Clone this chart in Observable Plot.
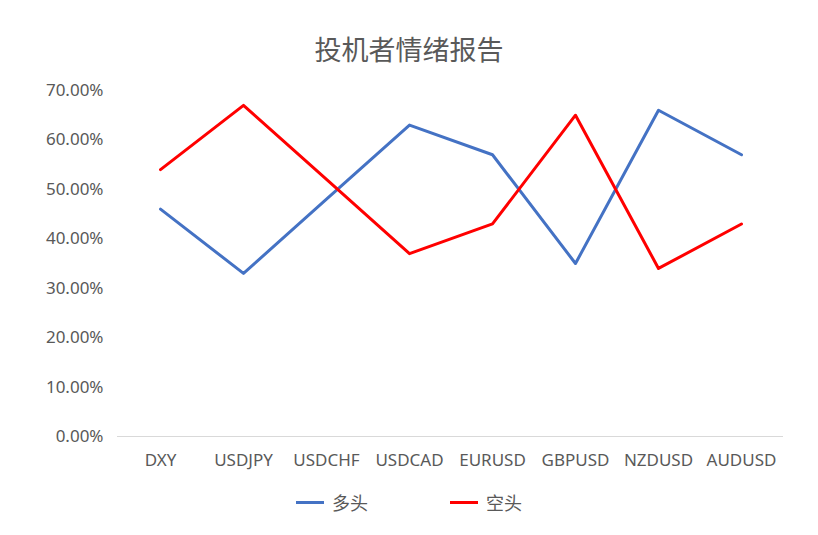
<!DOCTYPE html>
<html><head><meta charset="utf-8">
<script src="https://cdn.jsdelivr.net/npm/d3@7"></script>
<script src="https://cdn.jsdelivr.net/npm/@observablehq/plot@0.6"></script>
<style>
body{margin:0;background:#fff;font-family:"Noto Sans","Noto Sans CJK SC",sans-serif;}
#wrap{width:818px;height:535px;position:relative;}
#title{height:70px;line-height:98px;text-align:center;font-size:27px;color:#595959;font-family:"Noto Sans CJK SC",sans-serif;}
#legend{display:flex;justify-content:center;align-items:center;height:52px;font-size:18px;color:#595959;font-family:"Noto Sans CJK SC",sans-serif;}
.item{display:flex;align-items:center;margin:0 0px;}
.sw{width:28px;height:3px;margin-right:8px;}
</style></head>
<body><div id="wrap"><div id="title">投机者情绪报告</div><div id="chart"></div><div id="legend"></div></div>
<script>
const categories = ["DXY","USDJPY","USDCHF","USDCAD","EURUSD","GBPUSD","NZDUSD","AUDUSD"];
const seriesNames = ["多头","空头"];
const longValues = [46,33,48,63,57,35,66,57];
const shortValues = [54,67,52,37,43,65,34,43];
const colors = ["#4472C4","#FF0000"];
const yTicks = [0,10,20,30,40,50,60,70];

const data = [];
categories.forEach((c,i)=>{
  data.push({cat:c, series:seriesNames[0], v:longValues[i]});
  data.push({cat:c, series:seriesNames[1], v:shortValues[i]});
});

const plot = Plot.plot({
  width:818, height:406,
  marginLeft:117, marginRight:35, marginTop:20, marginBottom:40,
  style:{fontFamily:'"Noto Sans","Noto Sans CJK SC",sans-serif', fontSize:"17px", color:"#595959", background:"#fff"},
  x:{type:"point", domain:categories, padding:0.5, label:null},
  y:{domain:[0,70], label:null},
  color:{domain:seriesNames, range:colors},
  marks:[
    Plot.ruleY([0],{stroke:"#d9d9d9", strokeWidth:1}),
    Plot.axisY({ticks:yTicks, tickSize:0, tickPadding:14, tickFormat:d=>d.toFixed(2)+"%", label:null, fill:"#595959"}),
    Plot.axisX({tickSize:0, tickPadding:17, label:null, fill:"#595959"}),
    Plot.line(data,{x:"cat", y:"v", z:"series", stroke:"series", strokeWidth:3, strokeLinejoin:"round"})
  ]
});
document.getElementById("chart").appendChild(plot);

const lg = document.getElementById("legend");
seriesNames.forEach((s,i)=>{
  const it=document.createElement("div"); it.className="item";
  it.style.marginRight = i===0 ? "82px":"0";
  const sw=document.createElement("div"); sw.className="sw"; sw.style.background=colors[i];
  const t=document.createElement("span"); t.textContent=s;
  it.appendChild(sw); it.appendChild(t); lg.appendChild(it);
});
</script></body></html>
